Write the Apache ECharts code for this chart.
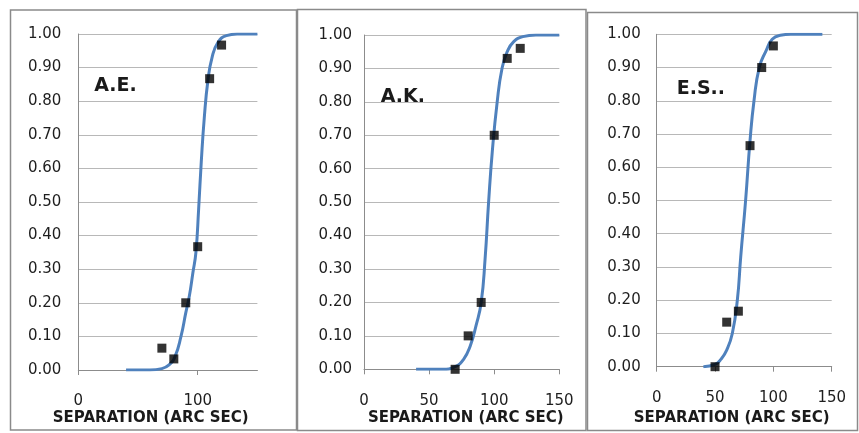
<!DOCTYPE html>
<html><head><meta charset="utf-8">
<script src="https://cdn.jsdelivr.net/npm/echarts@6/dist/echarts.min.js"></script>
<style>html,body{margin:0;padding:0;background:#fff}#c{width:859px;height:433px}</style>
</head><body><div id="c"></div>
<script>
// ---- data ----
const panelNames = ['A.E.', 'A.K.', 'E.S..'];
const xTitle = 'SEPARATION (ARC SEC)';
const yTicks = [0, 0.1, 0.2, 0.3, 0.4, 0.5, 0.6, 0.7, 0.8, 0.9, 1.0];
const xTicksAE = [0, 100];
const xTicksAK = [0, 50, 100, 150];
const xTicksES = [0, 50, 100, 150];

const aeSep  = [70, 80, 90, 100, 110, 120];
const aeProp = [0.065, 0.033, 0.20, 0.367, 0.867, 0.967];
const akSep  = [70, 80, 90, 100, 110, 120];
const akProp = [0.0, 0.10, 0.20, 0.70, 0.93, 0.96];
const esSep  = [50, 60, 70, 80, 90, 100];
const esProp = [0.0, 0.134, 0.167, 0.665, 0.90, 0.965];

const aeFitSep  = [40, 60, 70, 76, 81, 86, 90, 93, 96, 98.5, 100.8, 103, 105.5, 108.5, 112, 117, 124, 133, 150];
const aeFitProp = [0, 0, 0.004, 0.015, 0.04, 0.10, 0.17, 0.22, 0.29, 0.35, 0.48, 0.62, 0.75, 0.86, 0.93, 0.975, 0.995, 1, 1];
const akFitSep  = [40, 60, 70, 76.5, 81.6, 86, 90, 93, 95.7, 98.5, 102.3, 106, 110, 115, 122, 132, 150];
const akFitProp = [0, 0, 0.008, 0.03, 0.07, 0.13, 0.20, 0.33, 0.50, 0.65, 0.80, 0.90, 0.95, 0.98, 0.995, 1, 1];
const esFitSep  = [40, 50, 55, 60, 64.8, 69.1, 72, 76.2, 80, 83.4, 87.9, 93.7, 99, 106, 115, 142];
const esFitProp = [0, 0.007, 0.022, 0.05, 0.10, 0.20, 0.33, 0.50, 0.68, 0.80, 0.90, 0.95, 0.985, 0.997, 1, 1];

// ---- layout / styling ----
const FONT = 'DejaVu Sans';
const grids = [
  { left: 78.3, top: 34, width: 179.1, height: 336 },
  { left: 364, top: 35, width: 195.3, height: 334.3 },
  { left: 656.7, top: 34.3, width: 175, height: 332.4 }
];
const yMargins = [17, 12, 16];
const xTickSets = [xTicksAE, xTicksAK, xTicksES];
const scatterSets = [[aeSep, aeProp], [akSep, akProp], [esSep, esProp]];
const fitSets = [[aeFitSep, aeFitProp], [akFitSep, akFitProp], [esFitSep, esFitProp]];
const zip = (a, b) => a.map((v, i) => [v, b[i]]);

const option = {
  backgroundColor: '#fff',
  animation: false,
  grid: grids.map(g => Object.assign({ containLabel: false, outerBoundsMode: 'none' }, g)),
  xAxis: grids.map((g, i) => ({
    type: 'value', gridIndex: i, min: 0, max: 150,
    axisLine: { show: true, lineStyle: { color: '#8c8c8c', width: 1 } },
    axisTick: { show: true, customValues: xTickSets[i], length: 5, inside: false, lineStyle: { color: '#8c8c8c' } },
    axisLabel: { customValues: xTickSets[i], margin: 24, fontFamily: FONT, fontSize: 15, color: '#1e1e1e' },
    splitLine: { show: false }
  })),
  yAxis: grids.map((g, i) => ({
    type: 'value', gridIndex: i, min: 0, max: 1, interval: 0.1,
    axisLine: { show: true, lineStyle: { color: '#8c8c8c', width: 1 } },
    axisTick: { show: false },
    axisLabel: { customValues: yTicks, margin: yMargins[i], fontFamily: FONT, fontSize: 15, color: '#1e1e1e',
                 formatter: v => v.toFixed(2) },
    splitLine: { show: true, lineStyle: { color: '#b8b8b8', width: 1 } }
  })),
  series: [].concat(
    fitSets.map((f, i) => ({
      type: 'line', xAxisIndex: i, yAxisIndex: i, data: zip(f[0], f[1]),
      showSymbol: false, smooth: 0.5, z: 2,
      lineStyle: { color: '#4f81bd', width: 3 }
    })),
    scatterSets.map((s, i) => ({
      type: 'scatter', xAxisIndex: i, yAxisIndex: i, data: zip(s[0], s[1]),
      symbol: 'rect', symbolSize: 9, z: 3,
      itemStyle: { color: '#000' }
    }))
  ),
  graphic: [
    { type: 'rect', shape: { x: 10.5, y: 10, width: 286, height: 420 }, style: { fill: 'none', stroke: '#8a8a8a', lineWidth: 1.5 } },
    { type: 'rect', shape: { x: 297.5, y: 9.5, width: 288.5, height: 421 }, style: { fill: 'none', stroke: '#8a8a8a', lineWidth: 1.5 } },
    { type: 'rect', shape: { x: 587.5, y: 12.5, width: 270, height: 418 }, style: { fill: 'none', stroke: '#8a8a8a', lineWidth: 1.5 } },
    { type: 'text', x: 150.7, y: 418, style: { text: xTitle, font: 'bold 15px "DejaVu Sans"', fill: '#1a1a1a', textAlign: 'center', textVerticalAlign: 'middle' } },
    { type: 'text', x: 465.8, y: 418, style: { text: xTitle, font: 'bold 15px "DejaVu Sans"', fill: '#1a1a1a', textAlign: 'center', textVerticalAlign: 'middle' } },
    { type: 'text', x: 731.7, y: 418, style: { text: xTitle, font: 'bold 15px "DejaVu Sans"', fill: '#1a1a1a', textAlign: 'center', textVerticalAlign: 'middle' } },
    { type: 'text', x: 94.3, y: 86, style: { text: panelNames[0], font: 'bold 19px "DejaVu Sans"', fill: '#1a1a1a', textAlign: 'left', textVerticalAlign: 'middle' } },
    { type: 'text', x: 380.7, y: 96.7, style: { text: panelNames[1], font: 'bold 19px "DejaVu Sans"', fill: '#1a1a1a', textAlign: 'left', textVerticalAlign: 'middle' } },
    { type: 'text', x: 676.7, y: 89, style: { text: panelNames[2], font: 'bold 19px "DejaVu Sans"', fill: '#1a1a1a', textAlign: 'left', textVerticalAlign: 'middle' } }
  ]
};
const chart = echarts.init(document.getElementById('c'), null, { renderer: 'canvas' });
chart.setOption(option);
</script>
</body></html>
